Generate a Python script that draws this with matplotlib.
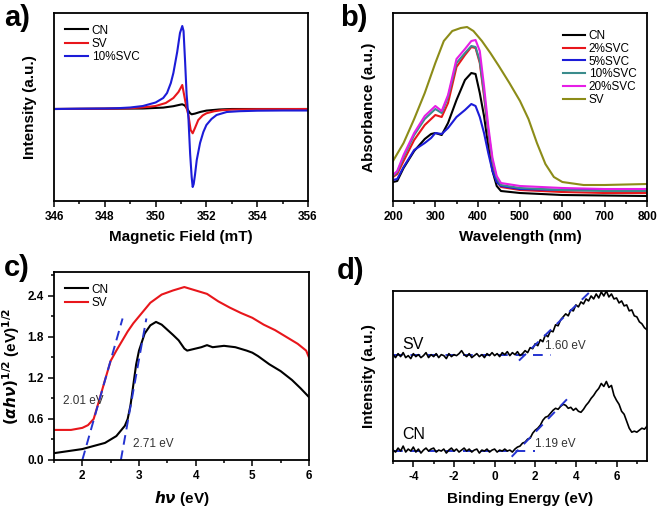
import matplotlib
matplotlib.use('Agg')
import matplotlib.pyplot as plt
from matplotlib.ticker import MultipleLocator, NullLocator, FormatStrFormatter

plt.rcParams['font.family'] = ['Liberation Sans', 'DejaVu Sans']
plt.rcParams['font.weight'] = 'bold'
plt.rcParams['axes.linewidth'] = 1.3
plt.rcParams['axes.unicode_minus'] = False

# ---- a) EPR ----
epr_field_blue = [346, 347, 348, 348.5, 349, 349.5, 350, 350.3, 350.45, 350.6, 350.7, 350.85, 350.96,
                  351.05, 351.1, 351.16, 351.22, 351.29, 351.36, 351.42, 351.46, 351.5, 351.55, 351.62,
                  351.75, 351.88, 352.0, 352.2, 352.4, 352.8, 353.3, 354, 355, 356]
epr_blue = [0, 0.3, 0.5, 0.8, 1.5, 3, 6.5, 11, 16, 26, 36, 57, 76,
            83, 78, 48, 15, -8, -45, -68, -78, -75, -66, -51,
            -34, -23, -16, -10, -6, -3, -2.2, -1.7, -1.5, -1.5]
epr_field_red = [346, 348, 349, 349.5, 350, 350.4, 350.7, 350.9, 351.05, 351.16, 351.22, 351.29, 351.38,
                 351.46, 351.55, 351.68, 351.85, 352.0, 352.3, 352.6, 353, 354, 356]
epr_red = [0, 0.3, 0.8, 1.6, 3, 6, 11, 17, 24, 9, 1, -6, -21,
           -24.3, -19, -11, -6.5, -4.3, -2.3, -1.2, -0.6, -0.2, 0]
epr_field_black = [346, 349.5, 350.3, 350.7, 351.0, 351.05, 351.15, 351.25, 351.35, 351.42, 351.55,
                   351.75, 352, 352.5, 353, 356]
epr_black = [0, 0.5, 1.4, 2.8, 4.5, 4.7, 3.5, 0, -4.0, -5.3, -4.6, -3.0, -1.6, -0.5, 0, 0]

# ---- b) UV-vis ----
wl = [200, 210, 225, 250, 275, 290, 300, 315, 330, 350, 370, 385, 395, 405, 415, 425, 435, 445, 455,
      500, 600, 700, 800]
abs_cn = [19, 20, 33, 50, 62, 67, 68, 66, 78, 101, 121, 128, 127, 108, 85, 55, 30, 15, 10, 8, 6, 5.5, 5]
abs_2 = [24, 27, 40, 61, 76, 82, 86, 84, 98, 134, 146, 154, 153, 138, 105, 68, 38, 20, 14, 11, 9, 8, 8]
abs_5 = [21, 22, 34, 51, 58, 63, 68, 67, 73, 84, 91, 97, 95, 84, 68, 48, 30, 19, 15, 12, 11, 11, 12]
abs_10 = [25, 29, 44, 66, 82, 88, 92, 88, 104, 138, 148, 155, 154, 140, 108, 70, 40, 23, 16, 13, 11, 10, 10]
abs_20 = [26, 30, 46, 68, 85, 91, 95, 90, 106, 142, 152, 160, 161, 150, 115, 75, 43, 25, 18, 15, 13, 12, 12]
sv_wl = [200, 225, 250, 275, 300, 320, 340, 360, 375, 390, 410, 430, 450, 475, 500, 520, 540, 560, 580,
         600, 650, 700, 750, 800]
abs_sv = [40, 58, 82, 108, 138, 160, 170, 173, 174, 170, 160, 148, 135, 118, 100, 82, 58, 37, 24,
          19, 16, 16, 16.5, 17]
uv_names = ['CN', '2%SVC', '5%SVC', '10%SVC', '20%SVC', 'SV']

# ---- c) Tauc ----
tauc_e_cn = [1.5, 2.0, 2.4, 2.6, 2.75, 2.8, 2.85, 2.9, 2.95, 3.0, 3.1, 3.2, 3.3, 3.4, 3.6, 3.7, 3.8,
             3.85, 4.0, 4.1, 4.2, 4.3, 4.5, 4.7, 4.9, 5.0, 5.1, 5.3, 5.5, 5.7, 5.85, 6.0]
tauc_cn = [0.1, 0.16, 0.25, 0.35, 0.5, 0.6, 0.8, 1.1, 1.4, 1.6, 1.85, 1.97, 2.02, 1.98, 1.83, 1.75, 1.63,
           1.6, 1.63, 1.65, 1.68, 1.65, 1.67, 1.65, 1.6, 1.57, 1.52, 1.4, 1.3, 1.17, 1.05, 0.92]
tauc_e_sv = [1.5, 1.8, 2.0, 2.1, 2.2, 2.3, 2.4, 2.5, 2.6, 2.7, 2.8, 2.9, 3.0, 3.2, 3.4, 3.6, 3.8, 4.0,
             4.2, 4.4, 4.6, 4.8, 5.0, 5.2, 5.4, 5.6, 5.8, 5.95, 6.0]
tauc_sv = [0.44, 0.44, 0.47, 0.51, 0.6, 0.88, 1.17, 1.45, 1.6, 1.74, 1.88, 2.0, 2.1, 2.3, 2.42, 2.48,
           2.53, 2.48, 2.43, 2.32, 2.23, 2.15, 2.08, 1.98, 1.9, 1.8, 1.7, 1.6, 1.5]
tauc_fit_sv = ([2.0, 2.71], [0.0, 2.07])
tauc_fit_cn = ([2.68, 3.13], [0.0, 2.07])

# ---- d) VB-XPS ----
be = [-5.0, -4.875, -4.75, -4.625, -4.5, -4.375, -4.25, -4.125,
      -4.0, -3.875, -3.75, -3.625, -3.5, -3.375, -3.25, -3.125,
      -3.0, -2.875, -2.75, -2.625, -2.5, -2.375, -2.25, -2.125,
      -2.0, -1.875, -1.75, -1.625, -1.5, -1.375, -1.25, -1.125,
      -1.0, -0.875, -0.75, -0.625, -0.5, -0.375, -0.25, -0.125,
      0.0, 0.125, 0.25, 0.375, 0.5, 0.625, 0.75, 0.875,
      1.0, 1.125, 1.25, 1.375, 1.5, 1.625, 1.75, 1.875,
      2.0, 2.125, 2.25, 2.375, 2.5, 2.625, 2.75, 2.875,
      3.0, 3.125, 3.25, 3.375, 3.5, 3.625, 3.75, 3.875,
      4.0, 4.125, 4.25, 4.375, 4.5, 4.625, 4.75, 4.875,
      5.0, 5.125, 5.25, 5.375, 5.5, 5.625, 5.75, 5.875,
      6.0, 6.125, 6.25, 6.375, 6.5, 6.625, 6.75, 6.875,
      7.0, 7.125, 7.25, 7.375, 7.5]
vb_sv = [107, 104, 108, 105, 109, 104, 106, 103,
         108, 105, 107, 104, 106, 109, 104, 107,
         105, 108, 104, 107, 106, 103, 108, 105,
         107, 106, 108, 111, 107, 105, 108, 104,
         106, 108, 105, 107, 104, 108, 106, 109,
         106, 108, 105, 109, 107, 110, 106, 109,
         107, 110, 106, 108, 111, 109, 114, 113,
         118, 116, 122, 120, 127, 125, 131, 130,
         137, 136, 142, 145, 148, 146, 152, 151,
         157, 155, 160, 158, 163, 161, 166, 163,
         168, 164, 170, 166, 171, 165, 168, 163,
         164, 159, 161, 156, 157, 151, 152, 146,
         145, 140, 138, 134, 132]
vb_cn = [11, 9, 13, 10, 15, 9, 12, 10,
         14, 9, 12, 8, 11, 13, 10, 12,
         13, 9, 11, 10, 12, 8, 11, 13,
         10, 12, 9, 11, 13, 10, 12, 9,
         11, 12, 8, 11, 10, 12, 9, 11,
         12, 9, 11, 10, 12, 10, 11, 9,
         12, 14, 15, 18, 19, 22, 23, 28,
         31, 33, 36, 41, 44, 45, 48, 51,
         53, 52, 55, 57, 56, 53, 54, 51,
         53, 50, 49, 52, 56, 59, 63, 66,
         70, 73, 78, 75, 80, 74, 76, 66,
         61, 57, 50, 47, 40, 33, 29, 30,
         29, 31, 33, 32, 35]
vb_fit_sv = ([1.2, 4.82], [101, 172.7])
vb_fit_cn = ([0.84, 3.59], [4.3, 62.7])
vb_base_sv = ([-5, 2.8], [107, 107])
vb_base_cn = ([-5, 2.0], [10.5, 10.5])

W, H = 661, 507
fig = plt.figure(figsize=(W / 100, H / 100), dpi=100)


def px_axes(x0, y0, x1, y1):
    return fig.add_axes([x0 / W, 1 - y1 / H, (x1 - x0) / W, (y1 - y0) / H])


def style(ax):
    ax.tick_params(which='both', direction='out', labelsize=8.5, width=1.1)
    ax.tick_params(which='major', length=4)
    ax.tick_params(which='minor', length=2.5)
    for lab in ax.get_xticklabels() + ax.get_yticklabels():
        lab.set_fontweight('bold')


lw = 1.5
dash_col = '#2433d0'
leg_font = {'weight': 'normal', 'size': 8.5}

# a)
ax = px_axes(54, 13, 308, 201)
ax.plot(epr_field_black, epr_black, color='black', lw=lw, label='CN')
ax.plot(epr_field_red, epr_red, color='#e8161b', lw=lw, label='SV')
ax.plot(epr_field_blue, epr_blue, color='#1c1cd8', lw=lw, label='10%SVC')
ax.set_xlim(346, 356)
ax.set_ylim(-92, 96)
ax.xaxis.set_major_locator(MultipleLocator(2))
ax.xaxis.set_minor_locator(MultipleLocator(1))
ax.yaxis.set_major_locator(NullLocator())
ax.set_xlabel('Magnetic Field (mT)', fontsize=11, fontweight='bold', labelpad=5)
ax.set_ylabel('Intensity (a.u.)', fontsize=11, fontweight='bold', labelpad=12)
ax.legend(loc='upper left', bbox_to_anchor=(0.0, 0.995), frameon=False,
          handlelength=2.0, handletextpad=0.3, labelspacing=0.1, prop=leg_font)
style(ax)
fig.text(4 / W, 1 - 18 / H, 'a)', fontsize=21, fontweight='bold', va='center')

# b)
ax = px_axes(393, 13, 647, 201)
uv_cols = ['black', '#e8161b', '#1c1cd8', '#3a8c8c', '#e61ee6', '#8c8c18']
for name, ys, c in zip(uv_names[:5], [abs_cn, abs_2, abs_5, abs_10, abs_20], uv_cols[:5]):
    ax.plot(wl, ys, color=c, lw=lw, label=name)
ax.plot(sv_wl, abs_sv, color=uv_cols[5], lw=lw, label=uv_names[5])
ax.set_xlim(200, 800)
ax.set_ylim(0, 188)
ax.xaxis.set_major_locator(MultipleLocator(100))
ax.xaxis.set_minor_locator(MultipleLocator(50))
ax.yaxis.set_major_locator(NullLocator())
ax.set_xlabel('Wavelength (nm)', fontsize=11, fontweight='bold', labelpad=5)
ax.set_ylabel('Absorbance (a.u.)', fontsize=11, fontweight='bold', labelpad=12)
ax.legend(loc='upper right', bbox_to_anchor=(1.0, 0.965), frameon=False,
          handlelength=1.9, handletextpad=0.3, labelspacing=0.06, prop=leg_font)
style(ax)
fig.text(340 / W, 1 - 18 / H, 'b)', fontsize=21, fontweight='bold', va='center')

# c)
ax = px_axes(54, 272, 309, 460)
ax.plot(tauc_e_cn, tauc_cn, color='black', lw=lw, label='CN')
ax.plot(tauc_e_sv, tauc_sv, color='#e8161b', lw=lw, label='SV')
ax.plot(*tauc_fit_sv, color=dash_col, lw=1.4, ls=(0, (5, 3)))
ax.plot(*tauc_fit_cn, color=dash_col, lw=1.4, ls=(0, (5, 3)))
ax.set_xlim(1.5, 6)
ax.set_ylim(0, 2.75)
ax.xaxis.set_major_locator(MultipleLocator(1))
ax.xaxis.set_minor_locator(MultipleLocator(0.5))
ax.yaxis.set_major_locator(MultipleLocator(0.6))
ax.yaxis.set_minor_locator(MultipleLocator(0.3))
ax.yaxis.set_major_formatter(FormatStrFormatter('%.1f'))
ax.set_xlabel(r'$\boldsymbol{h\nu}$ (eV)', fontsize=11, fontweight='bold', labelpad=5)
ax.set_ylabel(r'$(\boldsymbol{\alpha h\nu})^{1/2}$ (eV)$^{1/2}$', fontsize=11, fontweight='bold', labelpad=4)
ax.text(0.035, 0.3, '2.01 eV', transform=ax.transAxes, fontsize=8.5, fontweight='normal', color='#333333')
ax.text(0.31, 0.07, '2.71 eV', transform=ax.transAxes, fontsize=8.5, fontweight='normal', color='#333333')
ax.legend(loc='upper left', bbox_to_anchor=(0.0, 0.995), frameon=False,
          handlelength=2.0, handletextpad=0.3, labelspacing=0.1, prop=leg_font)
style(ax)
fig.text(4 / W, 1 - 268 / H, 'c)', fontsize=21, fontweight='bold', va='center')

# d)
ax = px_axes(393, 291, 647, 461)
ax.plot(*vb_base_sv, color=dash_col, lw=1.4, ls=(0, (5, 4)))
ax.plot(*vb_base_cn, color=dash_col, lw=1.4, ls=(0, (5, 4)))
ax.plot(be, vb_sv, color='black', lw=1.2)
ax.plot(be, vb_cn, color='black', lw=1.2)
ax.plot(*vb_fit_sv, color=dash_col, lw=1.4, ls=(0, (5, 4)))
ax.plot(*vb_fit_cn, color=dash_col, lw=1.4, ls=(0, (5, 4)))
ax.set_xlim(-5, 7.5)
ax.set_ylim(0, 171)
ax.xaxis.set_major_locator(MultipleLocator(2))
ax.xaxis.set_minor_locator(MultipleLocator(1))
ax.yaxis.set_major_locator(NullLocator())
ax.set_xlabel('Binding Energy (eV)', fontsize=11, fontweight='bold', labelpad=6)
ax.set_ylabel('Intensity (a.u.)', fontsize=11, fontweight='bold', labelpad=12)
ax.text(0.035, 0.66, 'SV', transform=ax.transAxes, fontsize=11.5, fontweight='normal')
ax.text(0.035, 0.13, 'CN', transform=ax.transAxes, fontsize=11.5, fontweight='normal')
ax.text(0.6, 0.66, '1.60 eV', transform=ax.transAxes, fontsize=8.5, fontweight='normal', color='#333333')
ax.text(0.56, 0.08, '1.19 eV', transform=ax.transAxes, fontsize=8.5, fontweight='normal', color='#333333')
style(ax)
fig.text(337 / W, 1 - 271 / H, 'd)', fontsize=21, fontweight='bold', va='center')

fig.savefig('out.png', dpi=100)
